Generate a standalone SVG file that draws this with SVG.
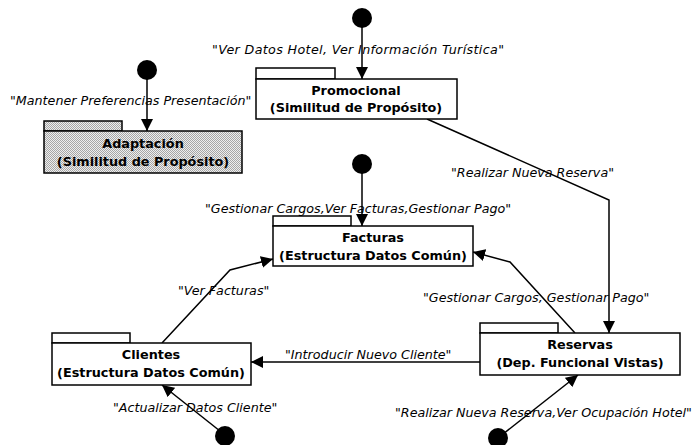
<svg xmlns="http://www.w3.org/2000/svg" width="696" height="445" viewBox="0 0 696 445">
  <style>
    .pkg { fill: #ffffff; stroke: #000000; stroke-width: 1.5; }
    .shaded { fill: url(#stipple); }
    .title { font-family: "DejaVu Sans", Verdana, sans-serif; font-weight: bold; font-size: 12.8px; text-anchor: middle; fill: #000000; }
    .lbl { font-family: "DejaVu Sans", Verdana, sans-serif; font-style: italic; font-size: 12.7px; fill: #000000; }
    .edge { fill: none; stroke: #000000; stroke-width: 1.5; marker-end: url(#arrow); }
    .start { fill: #000000; }
  </style>
  <defs>
    <!-- halftone grey used for the shaded package -->
    <pattern id="stipple" width="2" height="2" patternUnits="userSpaceOnUse">
      <rect width="2" height="2" fill="#eeeeee"/>
      <rect width="1" height="1" fill="#a6a6a6"/>
      <rect x="1" y="1" width="1" height="1" fill="#a6a6a6"/>
    </pattern>
    <marker id="arrow" viewBox="0 0 12 12" refX="12" refY="6" markerWidth="12" markerHeight="12" markerUnits="userSpaceOnUse" orient="auto">
      <path d="M0,0 L12,6 L0,12 Z" fill="#000000"/>
    </marker>
  </defs>

  <!-- connectors -->
  <g id="connectors">
    <path class="edge" d="M362,18 L362,79"/>
    <path class="edge" d="M147,70 L147,131"/>
    <path class="edge" d="M362,164 L362,226"/>
    <path class="edge" d="M427,119 L609,200 L609,333"/>
    <path class="edge" d="M162,343 L230,270 L273,259"/>
    <path class="edge" d="M575,333 L510,262 L473,252"/>
    <path class="edge" d="M480,362 L251,362"/>
    <path class="edge" d="M225,435 L162,385"/>
    <path class="edge" d="M498,438 L578,375"/>
  </g>

  <!-- initial points -->
  <g id="starts">
    <circle class="start" cx="362" cy="18" r="10"/>
    <circle class="start" cx="147" cy="70" r="10"/>
    <circle class="start" cx="362" cy="164" r="10"/>
    <circle class="start" cx="225" cy="436" r="10"/>
    <circle class="start" cx="498" cy="438" r="10"/>
  </g>

  <!-- packages -->
  <g id="promocional">
    <rect class="pkg" x="256" y="68" width="79" height="11"/>
    <rect class="pkg" x="256" y="79" width="201" height="40"/>
    <text class="title" x="356" y="95">Promocional</text>
    <text class="title" x="356" y="112">(Similitud de Propósito)</text>
  </g>

  <g id="adaptacion">
    <rect class="pkg shaded" x="44" y="121" width="78" height="10"/>
    <rect class="pkg shaded" x="44" y="131" width="198" height="42"/>
    <text class="title" x="143" y="148">Adaptación</text>
    <text class="title" x="143" y="166">(Similitud de Propósito)</text>
  </g>

  <g id="facturas">
    <rect class="pkg" x="273" y="216" width="78" height="10"/>
    <rect class="pkg" x="273" y="226" width="200" height="40"/>
    <text class="title" x="373" y="242">Facturas</text>
    <text class="title" x="373" y="260">(Estructura Datos Común)</text>
  </g>

  <g id="clientes">
    <rect class="pkg" x="52" y="333" width="78" height="10"/>
    <rect class="pkg" x="52" y="343" width="199" height="42"/>
    <text class="title" x="151" y="359">Clientes</text>
    <text class="title" x="151" y="377">(Estructura Datos Común)</text>
  </g>

  <g id="reservas">
    <rect class="pkg" x="480" y="323" width="78" height="10"/>
    <rect class="pkg" x="480" y="333" width="200" height="42"/>
    <text class="title" x="580" y="349">Reservas</text>
    <text class="title" x="580" y="367">(Dep. Funcional Vistas)</text>
  </g>

  <!-- connector labels -->
  <g id="labels">
    <text class="lbl" x="212" y="54" textLength="292">"Ver Datos Hotel, Ver Información Turística"</text>
    <text class="lbl" x="10" y="105">"Mantener Preferencias Presentación"</text>
    <text class="lbl" x="205" y="213">"Gestionar Cargos,Ver Facturas,Gestionar Pago"</text>
    <text class="lbl" x="451" y="177">"Realizar Nueva Reserva"</text>
    <text class="lbl" x="178" y="295">"Ver Facturas"</text>
    <text class="lbl" x="423" y="302">"Gestionar Cargos, Gestionar Pago"</text>
    <text class="lbl" x="285" y="359">"Introducir Nuevo Cliente"</text>
    <text class="lbl" x="113" y="412">"Actualizar Datos Cliente"</text>
    <text class="lbl" x="395" y="417">"Realizar Nueva Reserva,Ver Ocupación Hotel"</text>
  </g>
</svg>
